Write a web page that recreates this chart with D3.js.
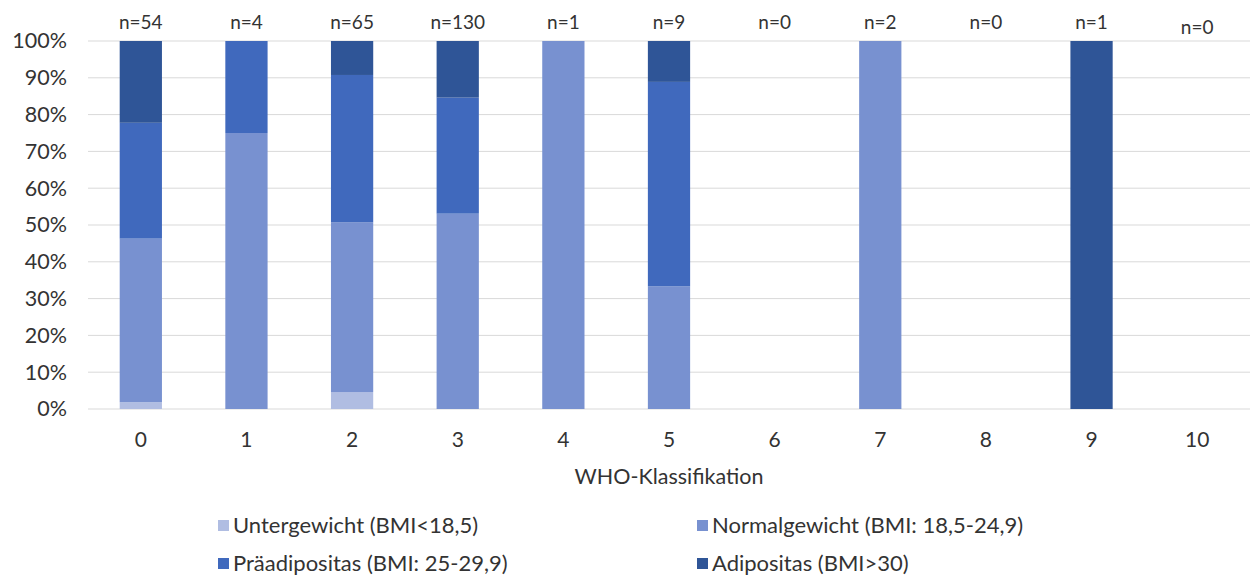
<!DOCTYPE html>
<html>
<head>
<meta charset="utf-8">
<script src="https://cdn.jsdelivr.net/npm/d3@7/dist/d3.min.js"></script>
<style>
  html, body { margin: 0; padding: 0; background: #fff; }
  svg text { font-family: Lato, "Open Sans", sans-serif; fill: #333; }
</style>
</head>
<body>
<svg id="chart" width="1251" height="579"></svg>
<script>
// WHO classification groups and patient counts per BMI class
const categories = ["0", "1", "2", "3", "4", "5", "6", "7", "8", "9", "10"];
const seriesNames = [
  "Untergewicht (BMI<18,5)",
  "Normalgewicht (BMI: 18,5-24,9)",
  "Präadipositas (BMI: 25-29,9)",
  "Adipositas (BMI>30)"
];
const untergewicht = [1, 0, 3, 0, 0, 0, 0, 0, 0, 0, 0];
const normalgewicht = [24, 3, 30, 69, 1, 3, 0, 2, 0, 0, 0];
const praeadipositas = [17, 1, 26, 41, 0, 5, 0, 0, 0, 0, 0];
const adipositas = [12, 0, 6, 20, 0, 1, 0, 0, 0, 1, 0];
const yTicks = [0, 10, 20, 30, 40, 50, 60, 70, 80, 90, 100];
const colors = ["#b0bde2", "#7891d0", "#4069bd", "#2f5597"];

const svg = d3.select("#chart");
const margin = { left: 88, right: 1250, top: 41, bottom: 409 };

const x = d3.scaleBand().domain(categories).range([margin.left, margin.right]).paddingInner(0.6).paddingOuter(0.3);
const y = d3.scaleLinear().domain([0, 100]).range([margin.bottom, margin.top]);

const counts = [untergewicht, normalgewicht, praeadipositas, adipositas];
const totals = categories.map((c, i) => d3.sum(counts, s => s[i]));

const rows = categories.map((c, i) => {
  const r = { cat: c, n: totals[i] };
  counts.forEach((s, k) => { r[k] = totals[i] ? s[i] / totals[i] * 100 : 0; });
  return r;
});
const stacked = d3.stack().keys([0, 1, 2, 3])(rows);

// gridlines
svg.append("g")
  .selectAll("line")
  .data(yTicks)
  .join("line")
  .attr("x1", margin.left).attr("x2", margin.right)
  .attr("y1", d => y(d)).attr("y2", d => y(d))
  .attr("stroke", "#d9d9d9").attr("stroke-width", 1);

// y axis labels
const yAxis = d3.axisLeft(y).tickValues(yTicks).tickFormat(d => d + "%").tickSize(0).tickPadding(21);
const yg = svg.append("g").attr("transform", `translate(${margin.left},0)`).call(yAxis);
yg.select(".domain").remove();
yg.selectAll("text").attr("font-size", 21.5).attr("font-family", "Lato, sans-serif").attr("fill", "#333");

// stacked bars
svg.append("g")
  .selectAll("g")
  .data(stacked)
  .join("g")
  .attr("fill", (d, i) => colors[i])
  .selectAll("rect")
  .data(d => d)
  .join("rect")
  .attr("x", d => x(d.data.cat))
  .attr("width", x.bandwidth())
  .attr("y", d => y(d[1]))
  .attr("height", d => y(d[0]) - y(d[1]));

// x axis labels
const xAxis = d3.axisBottom(x).tickSize(0).tickPadding(23);
const xg = svg.append("g").attr("transform", `translate(0,${margin.bottom})`).call(xAxis);
xg.select(".domain").remove();
xg.selectAll("text").attr("font-size", 21).attr("font-family", "Lato, sans-serif").attr("fill", "#333");

// group size labels
svg.append("g")
  .selectAll("text")
  .data(rows)
  .join("text")
  .attr("x", d => x(d.cat) + x.bandwidth() / 2)
  .attr("y", (d, i) => i === rows.length - 1 ? 34 : 29)
  .attr("text-anchor", "middle")
  .attr("font-size", 19)
  .text(d => "n=" + d.n);

// x axis title
svg.append("text")
  .attr("x", (margin.left + margin.right) / 2)
  .attr("y", 484)
  .attr("text-anchor", "middle")
  .attr("font-size", 21.5)
  .text("WHO-Klassifikation");

// legend
const legendPos = [[218, 525], [697, 525], [218, 563], [697, 563]];
const legend = svg.append("g")
  .selectAll("g")
  .data(seriesNames)
  .join("g")
  .attr("transform", (d, i) => `translate(${legendPos[i][0]},${legendPos[i][1]})`);
legend.append("rect").attr("x", 0).attr("y", -5).attr("width", 11).attr("height", 11).attr("fill", (d, i) => colors[i]);
legend.append("text").attr("x", 15).attr("y", 7.5).attr("font-size", 22).text(d => d);
</script>
</body>
</html>
